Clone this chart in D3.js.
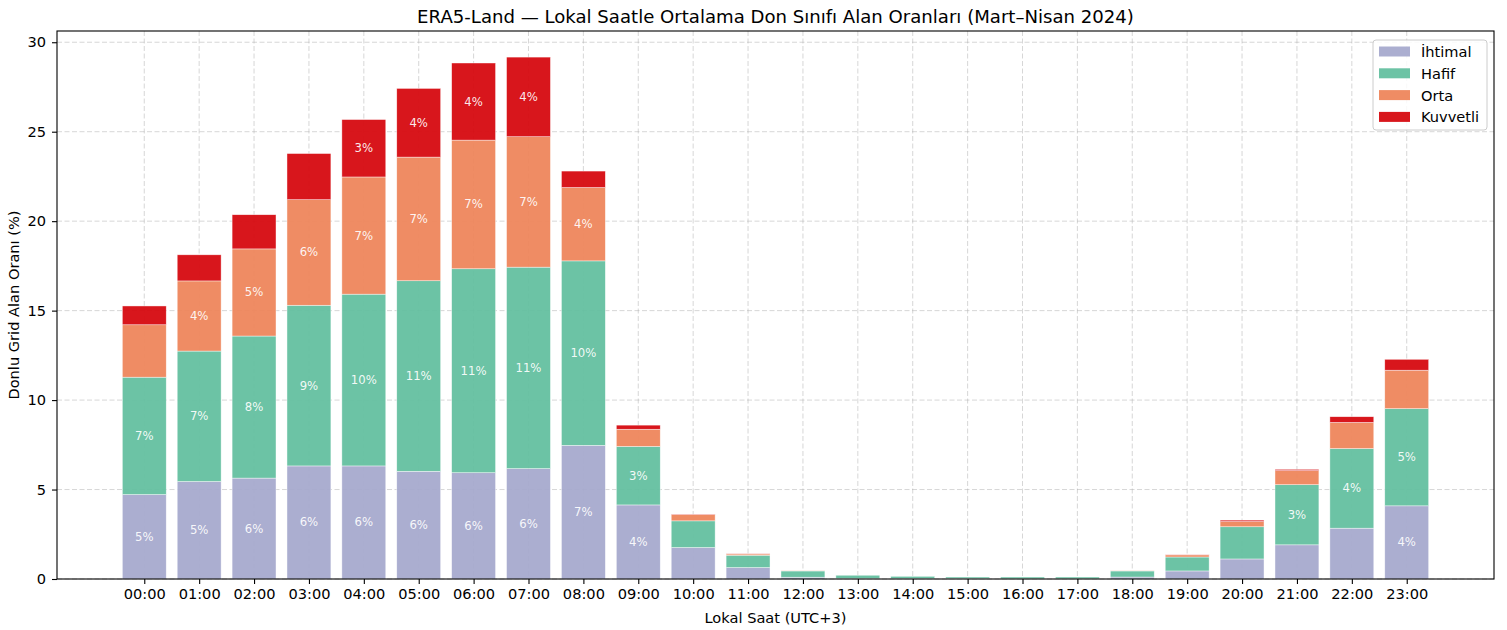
<!DOCTYPE html>
<html>
<head>
<meta charset="utf-8">
<script src="https://cdn.jsdelivr.net/npm/d3@7"></script>
<style>
html, body { margin: 0; padding: 0; background: #fff; }
svg { display: block; font-family: "DejaVu Sans", sans-serif; }
</style>
</head>
<body>
<svg id="chart" width="1507" height="630"></svg>
<script>
const hours = ["00:00","01:00","02:00","03:00","04:00","05:00","06:00","07:00","08:00","09:00","10:00","11:00","12:00","13:00","14:00","15:00","16:00","17:00","18:00","19:00","20:00","21:00","22:00","23:00"];
const seriesNames = ["İhtimal", "Hafif", "Orta", "Kuvvetli"];
const ihtimal  = [4.72, 5.45, 5.64, 6.32, 6.32, 6.02, 5.94, 6.17, 7.47, 4.14, 1.76, 0.64, 0.10, 0.03, 0.02, 0.02, 0.01, 0.01, 0.11, 0.45, 1.12, 1.91, 2.84, 4.09];
const hafif    = [6.56, 7.29, 7.94, 8.98, 9.60, 10.65, 11.40, 11.26, 10.31, 3.27, 1.49, 0.69, 0.35, 0.18, 0.13, 0.09, 0.10, 0.10, 0.34, 0.78, 1.80, 3.36, 4.45, 5.43];
const orta     = [2.93, 3.92, 4.87, 5.90, 6.55, 6.91, 7.19, 7.29, 4.10, 0.96, 0.35, 0.07, 0.01, 0.00, 0.00, 0.00, 0.00, 0.00, 0.01, 0.12, 0.29, 0.79, 1.46, 2.15];
const kuvvetli = [1.05, 1.46, 1.91, 2.58, 3.21, 3.84, 4.31, 4.45, 0.92, 0.23, 0.02, 0.01, 0.00, 0.00, 0.00, 0.00, 0.00, 0.00, 0.00, 0.02, 0.08, 0.07, 0.32, 0.61];
const yTicks = [0, 5, 10, 15, 20, 25, 30];

const colors = ["#a6aace", "#64c0a0", "#ee865c", "#d60a10"];
const seriesVals = [ihtimal, hafif, orta, kuvvetli];

const svg = d3.select("#chart");
const L = 57, R = 1494, T = 31, B = 579;
const FS = "14.6px";

const table = hours.map((h, i) => {
  const o = { hour: h, idx: i };
  seriesNames.forEach((s, k) => o[s] = seriesVals[k][i]);
  return o;
});
const stacked = d3.stack().keys(seriesNames)(table);
const maxTot = d3.max(table, d => seriesNames.reduce((a, s) => a + d[s], 0));

const barW = 0.8;
const x = d3.scaleLinear().domain([-0.4 - 0.05 * (23 + barW), 23.4 + 0.05 * (23 + barW)]).range([L, R]);
const y = d3.scaleLinear().domain([0, maxTot * 1.05]).range([B, T]);

// grid
const grid = svg.append("g");
grid.selectAll("line.hg").data(yTicks).join("line")
  .attr("x1", L).attr("x2", R).attr("y1", d => y(d)).attr("y2", d => y(d))
  .attr("stroke", "#b0b0b0").attr("stroke-opacity", 0.5).attr("stroke-width", 1)
  .attr("stroke-dasharray", "5,2.5");
grid.selectAll("line.vg").data(hours).join("line")
  .attr("x1", (d, i) => x(i)).attr("x2", (d, i) => x(i)).attr("y1", T).attr("y2", B)
  .attr("stroke", "#b0b0b0").attr("stroke-opacity", 0.5).attr("stroke-width", 1)
  .attr("stroke-dasharray", "5,2.5");

// bars
const bw = x(barW) - x(0);
stacked.forEach((layer, k) => {
  svg.append("g").selectAll("rect").data(layer).join("rect")
    .attr("x", (d, i) => x(i) - bw / 2)
    .attr("width", bw)
    .attr("y", d => y(d[1]))
    .attr("height", d => Math.max(0, y(d[0]) - y(d[1])))
    .attr("fill", colors[k]).attr("fill-opacity", 0.95)
    .attr("stroke", "#ffffff").attr("stroke-width", 0.6).attr("stroke-opacity", 0.7);
});

// labels
stacked.forEach((layer, k) => {
  svg.append("g").selectAll("text").data(layer.filter(d => d[1] - d[0] >= 3)).join("text")
    .attr("x", d => x(d.data.idx))
    .attr("y", d => y((d[0] + d[1]) / 2))
    .attr("text-anchor", "middle").attr("dominant-baseline", "central")
    .attr("font-size", "11.7px").attr("fill", "#ffffff").attr("fill-opacity", 0.92)
    .text(d => Math.round(d[1] - d[0]) + "%");
});

// axes
const xAxis = d3.axisBottom(x).tickValues(d3.range(hours.length)).tickFormat(i => hours[i]).tickSizeOuter(0).tickSize(5).tickPadding(5);
const gx = svg.append("g").attr("transform", `translate(0,${B})`).call(xAxis);
gx.select(".domain").remove();
gx.selectAll("text").attr("font-size", FS).attr("font-family", "DejaVu Sans").attr("fill", "#000");
gx.selectAll("line").attr("stroke", "#000").attr("stroke-width", 1.1);

const yAxis = d3.axisLeft(y).tickValues(yTicks).tickSizeOuter(0).tickSize(5).tickPadding(6);
const gy = svg.append("g").attr("transform", `translate(${L},0)`).call(yAxis);
gy.select(".domain").remove();
gy.selectAll("text").attr("font-size", FS).attr("font-family", "DejaVu Sans").attr("fill", "#000");
gy.selectAll("line").attr("stroke", "#000").attr("stroke-width", 1.1);

// spines
svg.append("rect").attr("x", L).attr("y", T).attr("width", R - L).attr("height", B - T)
  .attr("fill", "none").attr("stroke", "#000").attr("stroke-width", 1.1);

// titles
svg.append("text").attr("x", (L + R) / 2).attr("y", 23).attr("text-anchor", "middle")
  .attr("font-size", "18.1px").attr("fill", "#000")
  .text("ERA5-Land — Lokal Saatle Ortalama Don Sınıfı Alan Oranları (Mart–Nisan 2024)");
svg.append("text").attr("x", (L + R) / 2).attr("y", 623).attr("text-anchor", "middle")
  .attr("font-size", FS).attr("fill", "#000").text("Lokal Saat (UTC+3)");
svg.append("text").attr("transform", `translate(19,${(T + B) / 2}) rotate(-90)`).attr("text-anchor", "middle")
  .attr("font-size", FS).attr("fill", "#000").text("Donlu Grid Alan Oranı (%)");

// legend
const lg = svg.append("g").attr("transform", "translate(1373,40)");
lg.append("rect").attr("x", 0).attr("y", 0).attr("width", 114).attr("height", 90).attr("rx", 3)
  .attr("fill", "#fff").attr("fill-opacity", 0.85).attr("stroke", "#cccccc").attr("stroke-width", 1);
seriesNames.forEach((s, k) => {
  const cy = 11.5 + k * 21.8;
  lg.append("rect").attr("x", 6).attr("y", cy - 5).attr("width", 31).attr("height", 10)
    .attr("fill", colors[k]).attr("fill-opacity", 0.95);
  lg.append("text").attr("x", 48).attr("y", cy).attr("dominant-baseline", "central")
    .attr("font-size", FS).attr("fill", "#000").text(s);
});
</script>
</body>
</html>
